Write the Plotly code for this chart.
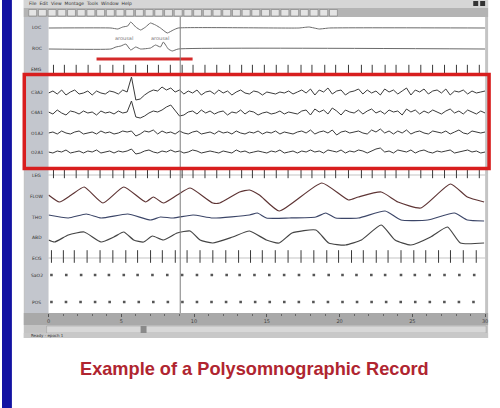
import plotly.graph_objects as go

# ---------------- DATA ----------------
# epoch time axis in seconds (30 s page)
EEG_DT = 0.3
eeg_c3 = [0, 2, -1, 3, -2, 1, 3, -1, 0, 2,
          -2, 2, 0, -1, 2, 1, -1, 3, 1, 16,
          -7, -6, -2, 1, 3, 2, 6, 3, 5, 1,
          3, -1, 2, 0, 3, -2, 1, 2, -1, 3,
          0, 2, -2, 1, 3, 0, -1, 2, 1, -2,
          1, 0, -1, 1, 0, 2, -1, 1, 3, 0,
          4, -2, 3, 1, 5, -1, 2, 3, -2, 1,
          2, 4, -1, 3, 0, 2, -2, 4, 1, 3,
          -1, 2, 5, -2, 3, 1, 4, -1, 2, 3,
          0, 4, -2, 2, 1, 3, -1, 2, 0, 1,
          2]
eeg_c4 = [1, -1, 3, 0, -2, 2, 1, -1, 2, 0,
          1, -2, 2, 0, 1, -1, 2, 0, 1, 12,
          -4, -5, -3, 0, 2, 1, 3, 6, 8, 3,
          -3, -2, 1, 2, -1, 3, 0, 2, -1, 1,
          2, -2, 1, 0, 3, -1, 2, 1, -2, 0,
          1, -1, 0, 2, -1, 1, 0, -1, 2, 3,
          -2, 4, 1, 3, -1, 5, 2, -2, 3, 1,
          0, 3, -1, 2, 4, 0, 2, -1, 3, 1,
          2, -2, 4, 1, 3, -1, 2, 0, 3, 1,
          -1, 2, 4, 0, 2, -1, 3, 1, -1, 2,
          0]
eeg_o1 = [0, 1, -1, 2, 0, -1, 1, 2, -1, 0,
          1, -1, 2, 0, 1, -1, 0, 2, 1, 2,
          -3, -1, 2, 1, 3, -1, 2, 0, 1, -1,
          2, 0, -1, 1, 2, -1, 0, 1, -1, 2,
          0, 1, -1, 2, 0, -1, 1, 0, 2, -1,
          1, 0, 2, -1, 1, 0, -1, 1, 2, 0,
          3, -1, 1, 2, 0, 3, -2, 1, 2, 0,
          1, 2, 0, -1, 3, 1, 4, 0, 2, -1,
          2, 0, 3, -1, 1, 2, 0, -1, 2, 1,
          0, 2, -1, 1, 3, 0, -1, 2, 1, 0,
          1]
eeg_o2 = [0, -1, 1, 0, 2, -1, 0, 1, -1, 1,
          0, 2, -1, 0, 1, -1, 1, 0, 1, 3,
          -2, -1, 1, 2, 0, -1, 1, 0, 2, 0,
          1, -1, 0, 2, 1, -1, 0, 1, 0, -1,
          1, 0, -1, 2, 0, 1, -1, 0, 1, 0,
          -1, 1, 0, 2, -1, 0, 1, -1, 1, 0,
          2, 0, 1, -1, 2, 1, 0, 2, -1, 1,
          0, 2, 1, -1, 1, 3, 4, 0, 1, -1,
          2, 1, 0, 2, -1, 1, 2, 0, -1, 1,
          0, 1, 2, -1, 0, 1, 2, 0, 1, -1,
          0]

# eye channels (knots)
loc_t = [0, 4.29, 4.76, 5.1, 5.44, 5.65, 5.99, 6.33, 6.67, 7.0, 7.35, 7.69, 8.16, 8.57, 8.91,
         17.2, 17.9, 18.6, 19.3, 30]
loc_v = [0, 0, -1, 1, 2, 6, 1, -2, 1, 5, 3, 0, -5, -2, 0, 0, 1, -1, 0, 0]
roc_t = [0, 4.29, 4.63, 4.97, 5.31, 5.65, 5.99, 6.33, 7.01, 7.35, 7.69, 7.89, 8.23, 8.5, 8.91, 30]
roc_v = [0, 0, 2, 3, 5, -1, 2, 0, 1, 4, 2, 7, 0, -2, 0, 0]

# scored arousal
arousal_t = [3.3, 9.9]

# respiratory channels
flow_t = [0, 0.75, 1.56, 2.45, 3.74, 5.17, 6.67, 7.21, 7.89, 8.84, 9.73, 11.29, 11.77, 13.13,
          13.81, 14.49, 15.85, 18.78, 20.61, 21.29, 22.86, 24.01, 25.58, 27.62, 28.78, 29.93]
flow_v = [1, -6, 1, 9, -7, 9, -6, -1, -7, 1, 8, -7, -7, 4, 6, 1, -15, 13, -4, -1, 4, -6, -12,
          12, -1, -6]
thor_t = [0, 1.36, 2.59, 3.61, 5.44, 7.01, 7.69, 8.57, 9.93, 11.29, 13.81, 14.35, 14.97, 16.53,
          18.37, 19.05, 19.73, 21.29, 23.13, 24.22, 26.05, 27.89, 28.78, 29.93]
thor_v = [2, -1, 3, -1, 3, -3, 0, -1, 2, -1, 2, 4, -1, -1, 0, 4, -1, -1, 6, -3, -3, 4, -3, -4]
abd_t = [0, 0.41, 1.36, 2.45, 3.61, 4.49, 5.17, 5.85, 6.53, 7.14, 7.89, 8.84, 9.73, 10.41, 11.29,
         12.65, 13.81, 14.97, 15.85, 16.73, 18.37, 19.25, 20.41, 21.5, 22.86, 23.81, 24.9, 26.26,
         27.41, 28.3, 29.93]
abd_v = [-3, -5, 2, 5, -5, 0, 5, -3, -5, 1, -3, 4, 6, -3, -6, 0, 6, -3, -6, 4, 7, -6, -8, -3, 12,
         -3, -8, 0, 10, -6, -6]

# event tick channels (EMG artefact ticks) and ECG beats
tick_t = [0.34, 1.09, 1.9, 2.72, 3.54, 4.42, 5.17, 5.99, 6.8, 7.55, 8.37, 9.18, 9.93, 10.75,
          11.56, 12.45, 13.27, 14.01, 14.83, 15.65, 16.46, 17.35, 18.1, 18.98, 19.73, 20.61,
          21.5, 22.24, 23.13, 23.88, 24.76, 25.58, 26.39, 27.21, 28.03, 28.78, 29.6]
ecg_t = [0.2, 1.02, 1.77, 2.65, 3.54, 4.42, 5.31, 6.12, 7.01, 7.82, 8.71, 9.52, 10.41, 11.29,
         12.18, 13.06, 13.88, 14.69, 15.58, 16.46, 17.35, 18.23, 19.12, 19.93, 20.82, 21.63,
         22.52, 23.33, 24.22, 25.1, 25.92, 26.8, 27.62, 28.5, 29.39]
# 1 Hz sample marks of the last two channels
spo2_t = [0.2, 1.22, 2.24, 3.2, 4.15, 5.17, 6.12, 7.14, 8.16, 9.18, 10.2, 11.22, 12.24, 13.13,
          14.15, 15.17, 16.19, 17.21, 18.23, 19.25, 20.2, 21.16, 22.18, 23.13, 24.22, 25.17,
          26.19, 27.21, 28.23, 29.25]
pos_t = [0.2, 1.2, 2.2, 3.2, 4.2, 5.2, 6.2, 7.2, 8.2, 9.2, 10.2, 11.2, 12.2, 13.2, 14.2, 15.2,
         16.2, 17.2, 18.2, 19.2, 20.2, 21.2, 22.2, 23.2, 24.2, 25.2, 26.2, 27.2, 28.2, 29.2]

cursor_t = 9.05
time_ticks = [0, 5, 10, 15, 20, 25, 30]
channel_labels = ["LOC", "ROC", "EMG", "C3A2", "C4A1", "O1A2", "O2A1", "LEG",
                  "FLOW", "THO", "ABD", "ECG", "SaO2", "POS"]
title_text = "Example of a Polysomnographic Record"

# ---------------- LAYOUT CONSTANTS ----------------
W, H = 500, 408
PX0, PX1, PY0, PY1 = 47, 488, 17, 313          # plot area in pixels
ROWS = dict(LOC=28, ROC=49, EMG=70, C3A2=93, C4A1=113, O1A2=133, O2A1=152, LEG=175,
            FLOW=196, THO=217, ABD=237, ECG=258, SaO2=275, POS=302)
AROUSAL_ROW = 59


def px(x):
    return x / W


def py(y):
    return 1 - y / H


def rect(x0, y0, x1, y1, fill, line_color=None, lw=0, layer="below"):
    return dict(type="rect", xref="paper", yref="paper", x0=px(x0), x1=px(x1),
                y0=py(y1), y1=py(y0), fillcolor=fill, layer=layer,
                line=dict(color=line_color or fill, width=lw))


def offset(row, vals):
    return [ROWS[row] - v for v in vals]


fig = go.Figure()

# EEG
eeg = [("C3A2", eeg_c3), ("C4A1", eeg_c4), ("O1A2", eeg_o1), ("O2A1", eeg_o2)]
for name, vals in eeg:
    fig.add_trace(go.Scatter(x=[i * EEG_DT for i in range(len(vals))], y=offset(name, vals),
                             mode="lines", line=dict(color="#3a3a3a", width=1), name=name))

# EOG
fig.add_trace(go.Scatter(x=loc_t, y=offset("LOC", loc_v), mode="lines",
                         line=dict(color="#6a6a6a", width=1, shape="spline", smoothing=0.4)))
fig.add_trace(go.Scatter(x=roc_t, y=offset("ROC", roc_v), mode="lines",
                         line=dict(color="#6a6a6a", width=1, shape="spline", smoothing=0.4)))

# arousal marker
fig.add_trace(go.Scatter(x=arousal_t, y=[AROUSAL_ROW] * len(arousal_t), mode="lines",
                         line=dict(color="#d42a2a", width=3)))

# respiratory
fig.add_trace(go.Scatter(x=flow_t, y=offset("FLOW", flow_v), mode="lines",
                         line=dict(color="#5e3434", width=1.2, shape="spline", smoothing=0.5)))
fig.add_trace(go.Scatter(x=thor_t, y=offset("THO", thor_v), mode="lines",
                         line=dict(color="#3c4668", width=1.2, shape="spline", smoothing=0.5)))
fig.add_trace(go.Scatter(x=abd_t, y=offset("ABD", abd_v), mode="lines",
                         line=dict(color="#444444", width=1.2, shape="spline", smoothing=0.5)))

# tick channels
for row, sz in (("EMG", 6), ("LEG", 6)):
    fig.add_trace(go.Scatter(x=tick_t, y=[ROWS[row] - 1] * len(tick_t), mode="markers",
                             marker=dict(symbol="line-ns", size=sz,
                                         line=dict(width=1, color="#3a3a3a"))))
fig.add_trace(go.Scatter(x=ecg_t, y=[ROWS["ECG"] - 1.5] * len(ecg_t), mode="markers",
                         marker=dict(symbol="line-ns", size=9,
                                     line=dict(width=1, color="#3a3a3a"))))

# dots channels
fig.add_trace(go.Scatter(x=spo2_t, y=[ROWS["SaO2"]] * len(spo2_t), mode="markers",
                         marker=dict(symbol="square", size=2.6, color="#555555")))
fig.add_trace(go.Scatter(x=pos_t, y=[ROWS["POS"]] * len(pos_t), mode="markers",
                         marker=dict(symbol="square", size=2.6, color="#555555")))

shapes = []
# blue strip
shapes.append(rect(0, 0, 10, H, "#1212a2"))
# window frame
shapes.append(rect(22, 0, 491, 338, "#c4c4c4"))
# menu bar / toolbar
shapes.append(rect(22, 0, 491, 8, "#d6d6d6"))
shapes.append(rect(22, 8, 491, 17, "#b4b4b4"))
for i in range(32):
    x0 = 27 + i * 9.8
    shapes.append(rect(x0, 9.5, x0 + 8, 16, "#e4e4e4", "#7a7a7a", 0.6))
shapes.append(rect(476, 1, 481, 6, "#333333"))
shapes.append(rect(483, 1, 488, 6, "#333333"))
# label column
shapes.append(rect(23, 17, PX0, PY1, "#c3c6cd"))
# plot area
shapes.append(rect(PX0, PY0, PX1, PY1, "#ffffff"))
# bottom time band / scroll / status
shapes.append(rect(22, PY1, 491, 325, "#a9a9a9"))
shapes.append(rect(45, 326, 489, 333, "#d8d8d8", "#9a9a9a", 0.5))
shapes.append(rect(140, 326, 146, 333, "#8a8a8a"))
shapes.append(rect(22, 333, 491, 338, "#c8c8c8"))
# baselines of tick channels
for row in ("LEG", "ECG"):
    shapes.append(dict(type="line", xref="paper", yref="y", x0=px(PX0), x1=px(PX1),
                       y0=ROWS[row], y1=ROWS[row], line=dict(color="#9a9a9a", width=0.6),
                       layer="below"))
# cursor
shapes.append(dict(type="line", xref="x", yref="paper", x0=cursor_t, x1=cursor_t,
                   y0=py(PY1), y1=py(PY0), line=dict(color="#7d7d7d", width=1), layer="above"))
# red highlight box
shapes.append(dict(type="rect", xref="paper", yref="paper", x0=px(22.5), x1=px(492),
                   y0=py(168.5), y1=py(74.5), line=dict(color="#d81e1e", width=3.5),
                   fillcolor="rgba(0,0,0,0)", layer="above"))

annotations = []
for lab in channel_labels:
    annotations.append(dict(xref="paper", yref="y", x=px(35), y=ROWS[lab], text=lab,
                            xanchor="center", yanchor="middle",
                            showarrow=False, font=dict(size=4.5, color="#333333",
                                                       family="DejaVu Sans")))
annotations.append(dict(xref="paper", yref="paper", x=px(25), y=py(4), xanchor="left",
                        yanchor="middle",
                        text="File  Edit  View  Montage  Tools  Window  Help", showarrow=False,
                        font=dict(size=4.5, color="#333333", family="DejaVu Sans")))
for xa, xb in ((112, 135), (148, 172)):
    annotations.append(dict(xref="paper", yref="y", x=px((xa + xb) / 2), y=38, text="arousal",
                            xanchor="center", yanchor="middle",
                            showarrow=False, font=dict(size=5, color="#777777",
                                                       family="DejaVu Sans")))
annotations.append(dict(xref="paper", yref="paper", x=px(27), y=py(335.5), xanchor="left",
                        yanchor="middle", text="Ready - epoch 1", showarrow=False,
                        font=dict(size=4, color="#333333", family="DejaVu Sans")))
annotations.append(dict(xref="paper", yref="paper", x=px(255), y=py(369),
                        xanchor="center", yanchor="middle",
                        text="<b>" + title_text + "</b>",
                        showarrow=False, font=dict(size=18.2, color="#b02530",
                                                   family="Liberation Sans")))

fig.update_layout(
    width=W, height=H, margin=dict(l=0, r=0, t=0, b=0),
    paper_bgcolor="#ffffff", plot_bgcolor="rgba(0,0,0,0)", showlegend=False,
    shapes=shapes, annotations=annotations,
    xaxis=dict(domain=[px(PX0), px(PX1)], range=[0, 30], showgrid=False, zeroline=False,
               showline=False, tickvals=time_ticks, ticks="outside", ticklen=3,
               tickcolor="#555555", tickfont=dict(size=5, color="#444444", family="DejaVu Sans"),
               minor=dict(dtick=1, ticks="outside", ticklen=1.5, tickcolor="#666666")),
    yaxis=dict(domain=[py(PY1), py(PY0)], range=[PY1, PY0], visible=False),
)

fig.write_html("out.html", config={"displayModeBar": False},
               post_script="document.body.style.margin='0';document.body.style.padding='0';")
